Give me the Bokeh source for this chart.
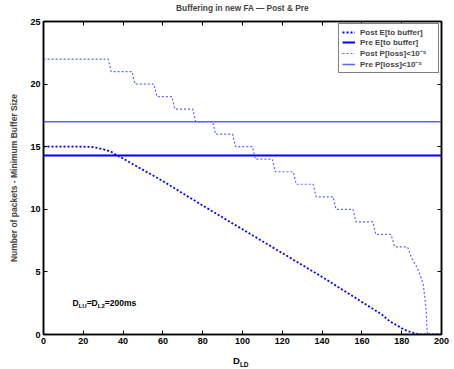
from bokeh.plotting import figure
from bokeh.models import (Range1d, LinearAxis, Label, Legend, LegendItem, FixedTicker,
                          CustomLabelingPolicy, Div)
from bokeh.layouts import column
from bokeh.embed import file_html
from bokeh.resources import INLINE

# ---- data ----
title_text = "Buffering in new FA \u2014 Post & Pre"
y_label = "Number of packets - Minimum Buffer Size"
x_ticks = [0, 20, 40, 60, 80, 100, 120, 140, 160, 180, 200]
y_ticks = [0, 5, 10, 15, 20, 25]

post_e_x = [0, 20, 25, 30, 34, 37, 40, 45, 50, 60, 80, 100, 120, 140, 160, 170, 174, 178, 181, 184, 186, 189, 200]
post_e_y = [15, 15, 14.97, 14.8, 14.6, 14.3, 14.05, 13.6, 13.15, 12.25, 10.3, 8.4, 6.5, 4.6, 2.6, 1.6, 1.05, 0.7, 0.4, 0.22, 0.12, 0.0, 0.0]

pre_e_x = [0, 200]
pre_e_y = [14.3, 14.3]

post_p_x = [0, 32.5, 34, 44.5, 46, 55.5, 57, 64.5, 66, 75, 76.5, 85, 86.5, 95, 96.5, 105, 106.5, 115, 116.5,
            125.5, 127, 135.5, 137, 145.5, 147, 155.5, 157, 165.5, 167, 174.6, 176.5, 182.9,
            184, 185.2, 187.7, 189.4, 190.8, 191.6, 192.3, 192.8, 193]
post_p_y = [22, 22, 21, 21, 20, 20, 19, 19, 18, 18, 17, 17, 16, 16, 15, 15, 14, 14, 13,
            13, 12, 12, 11, 11, 10, 10, 9, 9, 8, 8, 7, 7,
            6.55, 6.05, 5.36, 4.7, 4.04, 2.97, 1.9, 0.3, 0]

pre_p_x = [0, 200]
pre_p_y = [17.0, 17.0]

legend_labels = ["Post E[to buffer]", "Pre E[to buffer]", "Post P[loss]<10\u207b\u2075", "Pre P[loss]<10\u207b\u2075"]

FONT = "Liberation Sans"

p = figure(width=454, height=352, output_backend="svg", toolbar_location=None,
           x_range=Range1d(0, 200), y_range=Range1d(0, 25),
           min_border_left=43, min_border_right=13, min_border_top=20, min_border_bottom=18,
           background_fill_color="white", border_fill_color="white")
p.xgrid.visible = False
p.ygrid.visible = False
p.outline_line_color = "black"
p.outline_line_width = 1.5

p.title.text = title_text
p.title.align = "center"
p.title.text_font = FONT
p.title.text_font_style = "bold"
p.title.text_font_size = "8.3px"
p.title.standoff = 0
p.title.offset = 0

no_labels = CustomLabelingPolicy(code="""
for (const i of indices)
    indices.unset(i)
return indices
""")

def style_axis(ax, ticks, show_labels):
    ax.ticker = FixedTicker(ticks=ticks)
    ax.minor_tick_line_color = None
    ax.major_tick_in = 4
    ax.major_tick_out = 0
    ax.axis_line_width = 1.5
    ax.major_tick_line_width = 1
    ax.major_label_text_font = FONT
    ax.major_label_text_font_style = "bold"
    ax.major_label_text_color = "black"
    ax.major_label_text_font_size = "9px"
    if show_labels:
        ax.major_label_standoff = 3
    else:
        ax.major_label_policy = no_labels
        ax.major_label_standoff = 0

style_axis(p.xaxis[0], x_ticks, True)
style_axis(p.yaxis[0], y_ticks, True)
p.yaxis[0].axis_label = y_label
p.yaxis[0].axis_label_text_font = FONT
p.yaxis[0].axis_label_text_font_style = "bold"
p.yaxis[0].axis_label_text_font_size = "8.5px"
p.yaxis[0].axis_label_standoff = 8

top_ax = LinearAxis()
style_axis(top_ax, x_ticks, False)
p.add_layout(top_ax, "above")
right_ax = LinearAxis()
style_axis(right_ax, y_ticks, False)
p.add_layout(right_ax, "right")

r_post_e = p.line(post_e_x, post_e_y, line_color="#0000ff", line_width=1.8, line_dash="2 2")
r_pre_e = p.line(pre_e_x, pre_e_y, line_color="#0000ff", line_width=2)
r_post_p = p.line(post_p_x, post_p_y, line_color="#6262ff", line_width=1.2, line_dash="2 2")
r_pre_p = p.line(pre_p_x, pre_p_y, line_color="#6262ff", line_width=1.5)

legend = Legend(items=[LegendItem(label=legend_labels[0], renderers=[r_post_e]),
                       LegendItem(label=legend_labels[1], renderers=[r_pre_e]),
                       LegendItem(label=legend_labels[2], renderers=[r_post_p]),
                       LegendItem(label=legend_labels[3], renderers=[r_pre_p])],
                location="top_right", margin=2, padding=3, spacing=0,
                glyph_width=13, glyph_height=10, label_height=10, label_width=75,
                label_standoff=5, label_text_font=FONT, label_text_font_style="bold",
                label_text_font_size="8px", border_line_color="black", border_line_width=1.2,
                background_fill_alpha=1.0)
p.add_layout(legend)

# annotation D_LU=D_L2=200ms
ann_x, ann_y = 14.6, 2.55
pieces = [("D", 0.0, 0, "8.5px"), ("LU", 6.1, -3, "6px"), ("=D", 14.1, 0, "8.5px"),
          ("L2", 25.2, -3, "6px"), ("=200ms", 32.2, 0, "8.5px")]
for txt, dx, dy, fs in pieces:
    p.add_layout(Label(x=ann_x, y=ann_y, x_offset=dx, y_offset=dy, text=txt, text_align="left",
                       text_baseline="alphabetic", text_font=FONT, text_font_style="bold",
                       text_font_size=fs, text_color="black"))

# x axis label D_LD
xlabel = Div(width=454, height=17, margin=(0, 0, 0, 0),
             styles={"margin": "0px", "padding": "0px"},
             text=("<div style=\"padding-left:233px;padding-top:1px;margin:0;line-height:11px;"
                   "font-family:'Liberation Sans';font-weight:bold;color:black;white-space:nowrap\">"
                   "<span style=\"font-size:9.5px\">D</span>"
                   "<span style=\"font-size:6.5px;position:relative;top:3px\">LD</span></div>"))

layout = column(p, xlabel, spacing=0)
open("out.html", "w").write(file_html(layout, INLINE))
